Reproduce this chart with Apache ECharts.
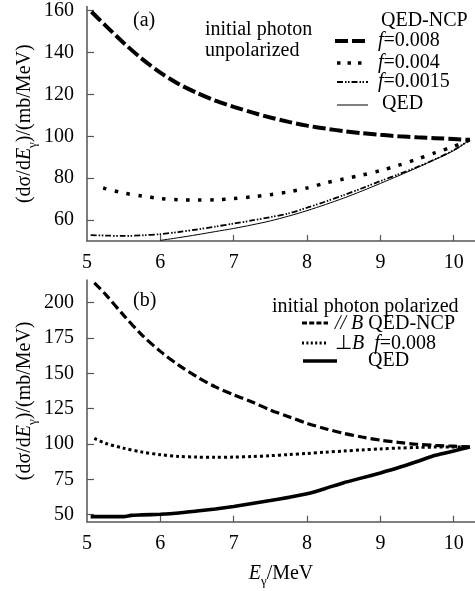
<!DOCTYPE html>
<html>
<head>
<meta charset="utf-8">
<script src="https://cdn.jsdelivr.net/npm/echarts@6/dist/echarts.min.js"></script>
<style>
html,body{margin:0;padding:0;background:#fff;}
#c{width:475px;height:591px;}
</style>
</head>
<body>
<div id="c"></div>
<script>
// ---------- data ----------
var xTickLabels = [5, 6, 7, 8, 9, 10];
var yTicksA = [60, 80, 100, 120, 140, 160];
var yTicksB = [50, 75, 100, 125, 150, 175, 200];

// panel (a): initial photon unpolarized
var eA = [5.06,5.25,5.5,5.75,6,6.25,6.5,6.75,7,7.25,7.5,7.75,8,8.25,8.5,8.75,9,9.25,9.5,9.75,10,10.22];
var f008 = [159.5,153,144.6,137,130.4,125,120.7,117,114.1,111.4,109,106.9,105.1,103.7,102.5,101.5,100.7,100,99.5,99.1,98.7,98.3];
var e004 = [5.22,5.5,5.75,6,6.25,6.5,6.75,7,7.25,7.5,7.75,8,8.25,8.5,8.75,9,9.25,9.5,9.75,10,10.22];
var f004 = [75.3,72.9,71.5,70.3,69.7,69.6,69.7,70.3,71.1,72.1,73.5,75.3,77.7,79.6,81.5,83.6,86.2,89.1,92.2,95.2,98.3];
var e0015 = [5.05,5.25,5.5,5.75,6,6.25,6.5,6.75,7,7.25,7.5,7.75,8,8.25,8.5,8.75,9,9.25,9.5,9.75,10,10.22];
var f0015 = [52.8,52.6,52.4,52.7,53.3,54.3,55.5,56.9,58.3,59.8,61.4,63.2,65.9,68.8,71.9,75.2,78.6,81.9,85.3,89.1,93.4,98.3];
var eQedA = [6,6.25,6.5,6.75,7,7.25,7.5,7.75,8,8.25,8.5,8.75,9,9.25,9.5,9.75,10,10.22];
var qedA = [50.3,51.6,53.0,54.5,56.0,57.7,59.6,61.9,64.5,67.4,70.5,73.9,77.5,81.2,85.0,89.0,93.2,98.3];

// panel (b): initial photon polarized
var ePar = [5.1,5.25,5.5,5.75,6,6.25,6.5,6.75,7,7.25,7.5,7.75,8,8.25,8.5,8.75,9,9.25,9.5,9.75,10,10.22];
var parB = [214,206,191,177,165.5,155.8,147.5,140.4,134.8,129.7,124,119.3,114.6,110.8,107.5,104.9,102.7,101.1,99.8,99.0,98.4,97.9];
var ePerp = [5.1,5.25,5.5,5.75,6,6.25,6.5,6.75,7,7.25,7.5,7.75,8,8.25,8.5,8.75,9,9.25,9.5,9.75,10,10.22];
var perpB = [103.9,100.5,97,94.3,92.4,91.2,90.7,90.6,90.7,91.1,91.7,92.5,93.3,94.2,95.0,95.8,96.5,97.1,97.5,97.8,97.9,97.9];
var eQedB = [5.05,5.5,5.6,5.75,6,6.25,6.5,6.75,7,7.25,7.5,7.75,8,8.25,8.5,8.75,9,9.25,9.5,9.75,10,10.22];
var qedB = [48.6,48.6,49.5,49.8,50.3,51.2,52.6,54.0,55.8,57.9,60.0,62.2,64.7,68.5,72.6,76.0,79.5,83.3,87.6,92.0,95.0,97.9];

function pairs(xs, ys){ return xs.map(function(x,i){ return [x, ys[i]]; }); }

var FONT = 'Liberation Serif';
var AX = '#555';

var chart = echarts.init(document.getElementById('c'), null, {renderer:'canvas'});

var nameRich = {
  n:{fontFamily:FONT, fontSize:20, color:'#000', lineHeight:28},
  i:{fontFamily:FONT, fontSize:20, fontStyle:'italic', color:'#000', lineHeight:28},
  s:{fontFamily:FONT, fontSize:13, color:'#000', lineHeight:13, verticalAlign:'bottom'}
};

function xAx(idx){
  return {
    type:'value', gridIndex: idx, min:5, max:10.29,
    axisLine:{show:true, onZero:false, lineStyle:{color:AX, width:1.5}},
    axisTick:{show:true, inside:true, length:6, lineStyle:{color:AX, width:1.2}, customValues:[6,7,8,9,10]},
    axisLabel:{customValues:xTickLabels, color:'#000', fontFamily:FONT, fontSize:20, margin:12},
    splitLine:{show:false}
  };
}
function yAx(idx, mn, mx, ticks, gap){
  return {
    type:'value', gridIndex: idx, min:mn, max:mx,
    axisLine:{show:true, onZero:false, lineStyle:{color:AX, width:1.5}},
    axisTick:{show:true, inside:true, length:7, lineStyle:{color:AX, width:1.2}, customValues:ticks},
    axisLabel:{customValues:ticks, color:'#000', fontFamily:FONT, fontSize:20, margin:13},
    splitLine:{show:false},
    name:'{n|(dσ/d}{i|E}{s|γ}{n|)/(mb/MeV)}',
    nameLocation:'middle', nameGap:gap, nameMoveOverlap:false,
    nameTextStyle:{rich:nameRich}
  };
}

function T(x, y, text, rich){
  return {type:'text', left:x, top:y-9, style:{text:text, font:'20px "Liberation Serif"', fill:'#000', rich:rich||{}}};
}
var richF = {
  i:{fontFamily:FONT, fontSize:20, fontStyle:'italic', fill:'#000', color:'#000'},
  n:{fontFamily:FONT, fontSize:20, fill:'#000', color:'#000'}
};
function L(x1, x2, y, w, dash){
  return {type:'line', shape:{x1:x1, y1:y, x2:x2, y2:y}, style:{stroke:'#000', lineWidth:w, lineDash:dash||null, lineCap:'butt'}};
}

var option = {
  animation:false,
  backgroundColor:'#fff',
  grid:[
    {left:87, right:0, top:6.5, height:234.5, containLabel:false},
    {left:87, right:0, top:280, height:241.7, containLabel:false}
  ],
  xAxis:[
    xAx(0),
    Object.assign(xAx(1), {
      name:'{i|E}{s|γ}{n|/MeV}', nameLocation:'middle', nameGap:38, nameMoveOverlap:false,
      nameTextStyle:{rich:nameRich}
    })
  ],
  yAxis:[
    yAx(0, 50, 162, yTicksA, 48),
    yAx(1, 45, 216, yTicksB, 48)
  ],
  series:[
    {name:'f=0.008', type:'line', xAxisIndex:0, yAxisIndex:0, data:pairs(eA, f008), showSymbol:false, smooth:0.3,
      lineStyle:{color:'#000', width:4, type:[13,4], cap:'butt'}},
    {name:'f=0.004', type:'line', xAxisIndex:0, yAxisIndex:0, data:pairs(e004, f004), showSymbol:false, smooth:0.3,
      lineStyle:{color:'#000', width:3.5, type:[3.5,8.5], cap:'butt'}},
    {name:'f=0.0015', type:'line', xAxisIndex:0, yAxisIndex:0, data:pairs(e0015, f0015), showSymbol:false, smooth:0.3,
      lineStyle:{color:'#000', width:1.8, type:[6,2,1.5,1.5,1.5,2], cap:'butt'}},
    {name:'QED', type:'line', xAxisIndex:0, yAxisIndex:0, data:pairs(eQedA, qedA), showSymbol:false, smooth:0.3,
      lineStyle:{color:'#000', width:1}},
    {name:'//B', type:'line', xAxisIndex:1, yAxisIndex:1, data:pairs(ePar, parB), showSymbol:false, smooth:0.3,
      lineStyle:{color:'#000', width:3.2, type:[9,4], cap:'butt'}},
    {name:'perpB', type:'line', xAxisIndex:1, yAxisIndex:1, data:pairs(ePerp, perpB), showSymbol:false, smooth:0.3,
      lineStyle:{color:'#000', width:3, type:[3,3], cap:'butt'}},
    {name:'QEDb', type:'line', xAxisIndex:1, yAxisIndex:1, data:pairs(eQedB, qedB), showSymbol:false, smooth:0.2,
      lineStyle:{color:'#000', width:3.6}}
  ],
  graphic:[
    T(133, 20, '(a)'),
    T(205, 29, 'initial photon'),
    T(205, 50, 'unpolarized'),
    T(381, 20, 'QED-NCP'),
    L(335, 368, 41, 4, [13,4]),
    T(378, 40, '{i|f}{n|=0.008}', richF),
    L(337, 368, 63, 3.5, [3.5,7]),
    T(378, 62, '{i|f}{n|=0.004}', richF),
    L(337, 368, 82, 1.8, [6,2,1.5,1.5,1.5,2]),
    T(378, 81, '{i|f}{n|=0.0015}', richF),
    L(337, 368, 105, 1),
    T(382, 103, 'QED'),

    T(133, 300, '(b)'),
    T(272, 306, 'initial photon polarized'),
    L(302, 328, 323, 3, [5,2.2]),
    T(335, 323, '{i|// B}{n| QED-NCP}', richF),
    L(302, 328, 343, 3, [2,2.4]),
    T(335, 343, '{n|⊥}{i|B}{n|  }{i|f}{n|=0.008}', richF),
    L(303, 337, 361, 3.6),
    T(368, 360, 'QED')
  ]
};
chart.setOption(option);
</script>
</body>
</html>
